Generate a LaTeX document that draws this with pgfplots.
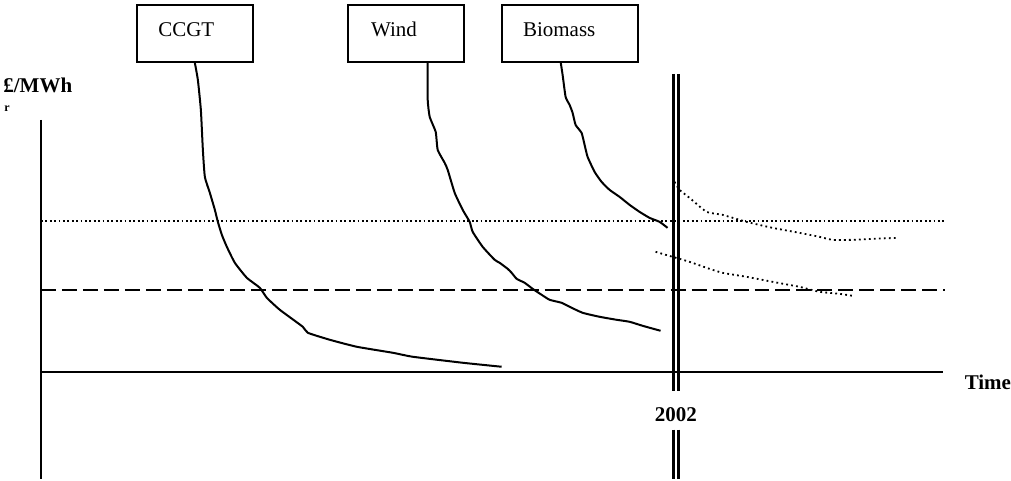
\documentclass[border=0pt]{standalone}
\usepackage{fontspec}
\setmainfont{Liberation Serif}
\usepackage{pgfplots}
\pgfplotsset{compat=1.18}

\begin{document}
\begin{tikzpicture}
\begin{axis}[
hide axis,
scale only axis,
width=505.5pt, height=239.5pt,
xmin=0, xmax=1011,
ymin=0, ymax=479,
y dir=reverse,
clip=false,
every axis plot/.append style={black, line width=1pt, line join=round, mark=none},
]
% frame of the picture
\path (rel axis cs:0,0) rectangle (rel axis cs:1,1);

% axes
\addplot[solid] coordinates {(41,120) (41,479)};
\addplot[solid] coordinates {(41,372) (944,372)};

% reference levels
\addplot[line width=0.9pt, dash pattern=on 0.9pt off 1.3pt] coordinates {(41,221) (946,221)};
\addplot[dash pattern=on 7.5pt off 3pt] coordinates {(41,290) (946,290)};

% 2002 double line
\addplot[line width=1.5pt] coordinates {(673.5,74) (673.5,391)};
\addplot[line width=1.5pt] coordinates {(678.5,74) (678.5,391)};
\addplot[line width=1.5pt] coordinates {(673.5,430) (673.5,479)};
\addplot[line width=1.5pt] coordinates {(678.5,430) (678.5,479)};

% CCGT
\addplot[solid, smooth, tension=0.3] coordinates {
(195,63) (198,80) (201,110) (203,150) (205,177) (210,193) (215,210) (218,222)
(222,235) (227,247) (235,263) (247,278) (260,288) (267,298) (280,310) (303,327)
(308,333) (330,340) (357,347) (393,353) (413,357) (463,363) (502,367)
};
% Wind
\addplot[solid, smooth, tension=0.3] coordinates {
(428,63) (428,100) (430,117) (436,132) (438,150) (445,163) (448,170) (455,193)
(463,210) (470,222) (473,232) (483,247) (495,260) (500,263) (508,269) (512,273)
(517,279) (525,283) (533,289) (542,295) (550,300) (562,303) (570,307) (583,313)
(600,317) (617,320) (630,322) (643,326) (661,331)
};
% Biomass
\addplot[solid, smooth, tension=0.3] coordinates {
(561,62) (563,75) (566,97) (570,105) (573,113) (576,125) (582,133) (585,145)
(588,157) (595,172) (602,182) (610,190) (620,197) (630,205) (640,212) (650,218)
(660,222) (668,228)
};
% projections after 2002
\addplot[line width=0.9pt, dash pattern=on 0.9pt off 1.6pt, smooth, tension=0.3] coordinates {
(675,182) (680,190) (690,198) (707,212) (723,215) (747,222) (773,228) (800,233)
(820,237) (833,240) (853,240) (873,239) (898,238)
};
\addplot[line width=0.9pt, dash pattern=on 0.9pt off 1.6pt, smooth, tension=0.3] coordinates {
(656,252) (673,257) (690,262) (707,268) (723,273) (747,277) (773,282) (800,287)
(820,292) (840,294) (853,296)
};

% labels
\draw[line width=1pt] (axis cs:137,5) rectangle (axis cs:253,62);
\draw[line width=1pt] (axis cs:348,5) rectangle (axis cs:464,62);
\draw[line width=1pt] (axis cs:502,5) rectangle (axis cs:638,62);
\begin{scope}[every node/.style={inner sep=0pt, anchor=base west, font=\fontsize{10.5}{12}\selectfont}]
\node at (axis cs:158,37) {CCGT};
\node at (axis cs:371,37) {Wind};
\node at (axis cs:523,37) {Biomass};
\node at (axis cs:965,390) {\textbf{Time}};
\node at (axis cs:655,422) {\textbf{2002}};
\node at (axis cs:3,93) {\textbf{£/MWh}};
\node[font=\fontsize{6}{7}\selectfont] at (axis cs:4,112) {\textbf{r}};
\end{scope}
\end{axis}
\end{tikzpicture}
\end{document}
